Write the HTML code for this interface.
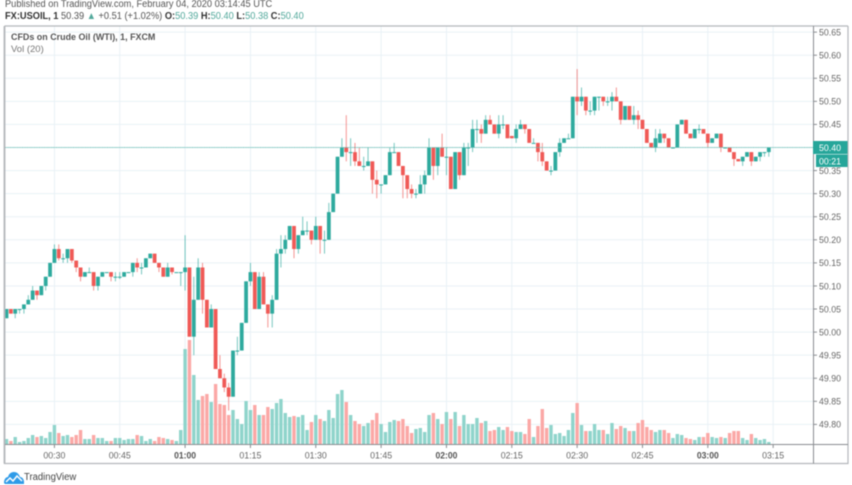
<!DOCTYPE html>
<html lang="en">
<head>
<meta charset="utf-8">
<title>USOIL chart</title>
<style>
  html, body { margin: 0; padding: 0; background: #fff; }
  #stage { position: relative; width: 852px; height: 485px; overflow: hidden; background: #fff; font-family: "Liberation Sans", sans-serif; filter: blur(0.4px); }
  #stage svg { position: absolute; left: 0; top: 0; }
  .t { position: absolute; white-space: nowrap; line-height: 12px; transform-origin: left center; }
  .v { color: #53a99c; }
  b { font-weight: bold; }
</style>
</head>
<body>
<div id="stage">
  <svg id="chart" width="852" height="485" viewBox="0 0 852 485"></svg>
  <div class="t" style="left:5px;top:-1.5px;font-size:10px;color:#555;transform:scaleX(.925)">Published on TradingView.com, February 04, 2020 03:14:45 UTC</div>
  <div class="t" style="left:5px;top:11px;font-size:10px;color:#555;transform:scaleX(.925)"><b style="color:#333">FX:USOIL, 1</b> 50.39 <span class="v">▲</span> +0.51 (+1.02%) <b style="color:#333">O:</b><span class="v">50.39</span> <b style="color:#333">H:</b><span class="v">50.40</span> <b style="color:#333">L:</b><span class="v">50.38</span> <b style="color:#333">C:</b><span class="v">50.40</span></div>
  <div class="t" style="left:11px;top:32px;font-size:9.5px;font-weight:bold;color:#555;transform:scaleX(.94)">CFDs on Crude Oil (WTI), 1, FXCM</div>
  <div class="t" style="left:11px;top:44px;font-size:9.5px;color:#777">Vol (20)</div>
  <svg width="20" height="14" viewBox="0 0 20 14" style="left:4px;top:471px"><path d="M0 12 C0 8 2 6 4 6 C5 2 8 1 10 1 C13 1 15 3 16 6 C18 6 20 8 20 11 L20 13 L1 13 Z" fill="#2f9be8"/><path d="M2 11 L6 7 L9 10 L13 5 L18 10" fill="none" stroke="#fff" stroke-width="1.5"/></svg>
  <div class="t" style="left:24px;top:472px;font-size:10px;color:#444;transform:scaleX(.95)">TradingView</div>
</div>
<script>
const opens = [50.03,50.05,50.04,50.05,50.05,50.06,50.07,50.09,50.08,50.10,50.12,50.15,50.18,50.16,50.16,50.18,50.155,50.14,50.12,50.13,50.13,50.10,50.12,50.13,50.13,50.12,50.12,50.12,50.13,50.13,50.15,50.14,50.14,50.16,50.17,50.15,50.14,50.12,50.14,50.13,50.13,50.13,50.14,49.99,50.07,50.14,50.07,50.01,50.05,49.92,49.90,49.88,49.86,49.96,49.96,50.02,50.11,50.13,50.05,50.12,50.06,50.04,50.07,50.17,50.18,50.20,50.23,50.18,50.21,50.22,50.22,50.20,50.23,50.20,50.20,50.26,50.30,50.38,50.40,50.39,50.39,50.37,50.36,50.36,50.37,50.33,50.32,50.32,50.34,50.39,50.39,50.36,50.34,50.31,50.30,50.30,50.32,50.34,50.40,50.36,50.40,50.38,50.38,50.31,50.39,50.34,50.40,50.40,50.44,50.44,50.43,50.46,50.45,50.43,50.45,50.45,50.425,50.42,50.44,50.45,50.44,50.41,50.41,50.39,50.37,50.35,50.35,50.39,50.41,50.42,50.42,50.51,50.50,50.51,50.48,50.48,50.51,50.51,50.50,50.50,50.51,50.50,50.46,50.49,50.46,50.47,50.46,50.44,50.41,50.40,50.41,50.43,50.42,50.40,50.40,50.45,50.46,50.43,50.42,50.44,50.44,50.43,50.41,50.42,50.43,50.40,50.40,50.39,50.375,50.37,50.38,50.39,50.37,50.38,50.39,50.39];
const highs = [50.05,50.05,50.05,50.05,50.06,50.08,50.10,50.09,50.10,50.12,50.15,50.19,50.19,50.17,50.18,50.18,50.155,50.14,50.13,50.14,50.13,50.12,50.13,50.13,50.13,50.13,50.13,50.13,50.13,50.15,50.16,50.15,50.16,50.17,50.17,50.15,50.14,50.15,50.14,50.13,50.13,50.21,50.14,50.12,50.16,50.15,50.07,50.06,50.05,49.95,49.91,49.89,49.96,49.99,50.02,50.11,50.15,50.13,50.13,50.13,50.06,50.08,50.18,50.21,50.21,50.23,50.23,50.21,50.25,50.24,50.22,50.25,50.23,50.22,50.28,50.30,50.38,50.42,50.47,50.42,50.41,50.40,50.38,50.40,50.37,50.35,50.32,50.34,50.40,50.41,50.39,50.36,50.34,50.32,50.31,50.34,50.35,50.42,50.40,50.40,50.43,50.40,50.38,50.39,50.39,50.41,50.41,50.46,50.46,50.45,50.47,50.47,50.45,50.47,50.47,50.45,50.425,50.45,50.46,50.45,50.44,50.42,50.41,50.41,50.37,50.36,50.39,50.42,50.42,50.43,50.51,50.57,50.53,50.51,50.50,50.51,50.51,50.51,50.51,50.52,50.53,50.50,50.49,50.49,50.49,50.48,50.46,50.44,50.41,50.44,50.44,50.43,50.42,50.40,50.45,50.46,50.46,50.43,50.44,50.45,50.44,50.43,50.42,50.43,50.43,50.40,50.40,50.39,50.375,50.38,50.39,50.39,50.38,50.39,50.39,50.40];
const lows = [50.03,50.04,50.03,50.04,50.04,50.06,50.07,50.07,50.08,50.09,50.12,50.15,50.155,50.15,50.15,50.15,50.13,50.11,50.12,50.13,50.09,50.09,50.12,50.13,50.11,50.11,50.115,50.12,50.13,50.12,50.13,50.125,50.14,50.16,50.15,50.13,50.12,50.12,50.125,50.13,50.10,50.09,49.99,49.95,50.07,50.04,50.01,50.01,49.92,49.90,49.87,49.83,49.86,49.95,49.96,50.02,50.10,50.05,50.05,50.06,50.01,50.01,50.07,50.14,50.17,50.20,50.16,50.17,50.21,50.21,50.19,50.20,50.17,50.17,50.20,50.26,50.30,50.38,50.37,50.36,50.36,50.36,50.35,50.36,50.30,50.29,50.30,50.32,50.34,50.39,50.36,50.29,50.29,50.29,50.29,50.30,50.30,50.34,50.33,50.34,50.38,50.34,50.31,50.31,50.33,50.34,50.36,50.39,50.41,50.41,50.43,50.45,50.43,50.42,50.44,50.42,50.42,50.41,50.44,50.43,50.41,50.41,50.37,50.36,50.35,50.34,50.35,50.38,50.41,50.42,50.42,50.47,50.49,50.47,50.47,50.47,50.48,50.49,50.49,50.48,50.50,50.45,50.46,50.46,50.45,50.44,50.44,50.41,50.40,50.39,50.41,50.41,50.40,50.40,50.40,50.45,50.43,50.42,50.42,50.43,50.43,50.40,50.41,50.42,50.39,50.40,50.39,50.36,50.37,50.36,50.38,50.36,50.37,50.37,50.38,50.38];
const closes = [50.05,50.04,50.05,50.05,50.06,50.07,50.09,50.08,50.10,50.12,50.15,50.18,50.16,50.16,50.18,50.155,50.14,50.12,50.13,50.13,50.10,50.12,50.13,50.13,50.12,50.12,50.12,50.13,50.13,50.15,50.14,50.14,50.16,50.17,50.15,50.14,50.12,50.14,50.13,50.13,50.13,50.14,49.99,50.07,50.14,50.07,50.01,50.05,49.92,49.90,49.88,49.86,49.96,49.96,50.02,50.11,50.13,50.05,50.12,50.06,50.04,50.07,50.17,50.18,50.20,50.23,50.18,50.21,50.22,50.22,50.20,50.23,50.20,50.20,50.26,50.30,50.38,50.40,50.39,50.39,50.37,50.36,50.36,50.37,50.33,50.32,50.32,50.34,50.39,50.39,50.36,50.34,50.31,50.30,50.30,50.32,50.34,50.40,50.36,50.40,50.38,50.38,50.31,50.39,50.34,50.40,50.40,50.44,50.44,50.43,50.46,50.45,50.43,50.45,50.45,50.42,50.42,50.44,50.45,50.44,50.41,50.41,50.39,50.37,50.35,50.35,50.39,50.41,50.42,50.42,50.51,50.50,50.51,50.48,50.48,50.51,50.51,50.50,50.50,50.51,50.50,50.46,50.49,50.46,50.47,50.46,50.44,50.41,50.40,50.42,50.43,50.42,50.40,50.40,50.45,50.46,50.43,50.42,50.44,50.44,50.43,50.41,50.42,50.43,50.40,50.40,50.39,50.375,50.37,50.38,50.39,50.37,50.38,50.39,50.39,50.40];
const volumes = [5,3,7,2,3,6,9,7,8,6,12,19,11,8,9,7,9,14,5,5,9,6,6,3,3,6,6,4,5,5,9,8,3,5,3,7,6,5,4,3,14,95,104,69,44,48,50,42,60,40,39,29,34,25,20,43,34,39,29,29,37,35,41,45,31,27,28,27,29,14,22,29,25,23,34,26,50,54,42,29,23,20,18,21,24,31,20,12,22,24,23,25,18,11,15,16,12,29,31,25,20,32,25,32,18,29,20,20,26,21,23,13,14,17,14,17,13,12,12,10,25,7,18,35,16,19,10,11,8,14,31,41,19,13,13,20,14,14,10,21,15,18,16,13,13,21,24,17,14,12,14,14,11,6,10,9,6,5,4,7,7,11,7,6,7,6,11,13,13,6,4,10,6,4,5,2];
const priceTickLabels = ["50.65","50.60","50.55","50.50","50.45","50.40","50.35","50.30","50.25","50.20","50.15","50.10","50.05","50.00","49.95","49.90","49.85","49.80"];
const timeTickLabels = ["00:30","00:45","01:00","01:15","01:30","01:45","02:00","02:15","02:30","02:45","03:00","03:15"];
const firstBarTime = "00:19";
const lastPrice = 50.40;
const countdown = "00:21";

const svg = document.getElementById('chart');
const NS = 'http://www.w3.org/2000/svg';
const UP = '#26a69a', DOWN = '#ef5350', UP_VOL = '#8fd4cb', DOWN_VOL = '#fba8a6', GRID = '#e9f1f6';
const FONT = '"Liberation Sans", sans-serif';

function minutes(label) { const p = label.split(':'); return (+p[0]) * 60 + (+p[1]); }
function xScale(i) { return 6.5 + 4.356 * i; }
function yScale(p) { return 147.5 + (50.40 - p) * 461.5; }
function volScale(v) { return 444 - v; }
function barIndex(label) { return minutes(label) - minutes(firstBarTime); }

function make(tag, props, text) {
  const el = document.createElementNS(NS, tag);
  for (const k in props) el.setAttribute(k, props[k]);
  if (text !== undefined) el.textContent = text;
  svg.appendChild(el);
  return el;
}

priceTickLabels.forEach(function (label) {
  const y = yScale(parseFloat(label));
  const el = make('line', { x1: 5, x2: 813, y1: y, y2: y, stroke: GRID, 'stroke-width': 1 });
  
  
});
timeTickLabels.forEach(function (label) {
  const x = xScale(barIndex(label));
  const el = make('line', { x1: x, x2: x, y1: 26, y2: 444, stroke: GRID, 'stroke-width': 1 });
  
  
});

volumes.forEach(function (v, i) {
  const up = closes[i] >= opens[i];
  const el = make('rect', { x: xScale(i) - 1.7, y: volScale(v), width: 3.4, height: v, fill: up ? UP_VOL : DOWN_VOL });
  
  
});

opens.forEach(function (o, i) {
  const c = closes[i];
  const color = c >= o ? UP : DOWN;
  const x = xScale(i);
  const wick = make('line', { x1: x, x2: x, y1: yScale(highs[i]), y2: yScale(lows[i]), stroke: color, 'stroke-width': 1, opacity: 0.62 });
  
  
  const top = yScale(Math.max(o, c));
  const h = Math.max(1, Math.abs(yScale(o) - yScale(c)));
  const body = make('rect', { x: x - 1.9, y: top, width: 3.8, height: h, fill: color, opacity: 0.95 });
  
  
});

const priceLine = make('line', { x1: 5, x2: 813, y1: yScale(lastPrice), y2: yScale(lastPrice), stroke: '#62bcb1', 'stroke-width': 1, 'stroke-dasharray': '1 0.7' });



const frame = make('path', { d: 'M4.5 26 V463.5 H848 V26 M4.5 26 H848', fill: 'none', stroke: '#b4b7bb', 'stroke-width': 1.2 });


const leftEdge = make('line', { x1: 4.5, x2: 4.5, y1: 26, y2: 463.5, stroke: '#b4b7bb', 'stroke-width': 1.8 });


const yAxisLine = make('line', { x1: 813.5, x2: 813.5, y1: 26, y2: 463.5, stroke: '#8a8d91', 'stroke-width': 1 });


const xAxisLine = make('line', { x1: 5, x2: 848, y1: 444.5, y2: 444.5, stroke: '#8a8d91', 'stroke-width': 1 });



priceTickLabels.forEach(function (label) {
  const y = yScale(parseFloat(label));
  const tick = make('line', { x1: 813.5, x2: 817, y1: y, y2: y, stroke: '#8a8d91', 'stroke-width': 1 });
  
  
  const t = make('text', { x: 819, y: y + 3.3, 'font-size': 9.5, textLength: 22, lengthAdjust: 'spacingAndGlyphs', fill: '#666', 'font-family': FONT }, label);
  
  
});
timeTickLabels.forEach(function (label) {
  const x = xScale(barIndex(label));
  const tick = make('line', { x1: x, x2: x, y1: 444.5, y2: 448, stroke: '#8a8d91', 'stroke-width': 1 });
  
  
  const strong = label.slice(3) === '00';
  const t = make('text', { x: x, y: 458.5, 'font-size': 9.5, 'text-anchor': 'middle', textLength: 22, lengthAdjust: 'spacingAndGlyphs', fill: strong ? '#555' : '#666', 'font-weight': strong ? 'bold' : 'normal', 'font-family': FONT }, label);
  
  
});

const yLast = yScale(lastPrice);
const priceBox = make('rect', { x: 813, y: yLast - 6.5, width: 34.5, height: 13, fill: '#26a69a' });


const priceText = make('text', { x: 819, y: yLast + 3.3, 'font-size': 9.5, textLength: 22, lengthAdjust: 'spacingAndGlyphs', fill: '#fff', 'font-family': FONT }, lastPrice.toFixed(2));


const timeBox = make('rect', { x: 816, y: yLast + 7, width: 31.5, height: 12.5, fill: '#26a69a' });


const timeText = make('text', { x: 819, y: yLast + 16.8, 'font-size': 9.5, textLength: 22, lengthAdjust: 'spacingAndGlyphs', fill: '#fff', 'font-family': FONT }, countdown);


</script>
</body>
</html>
